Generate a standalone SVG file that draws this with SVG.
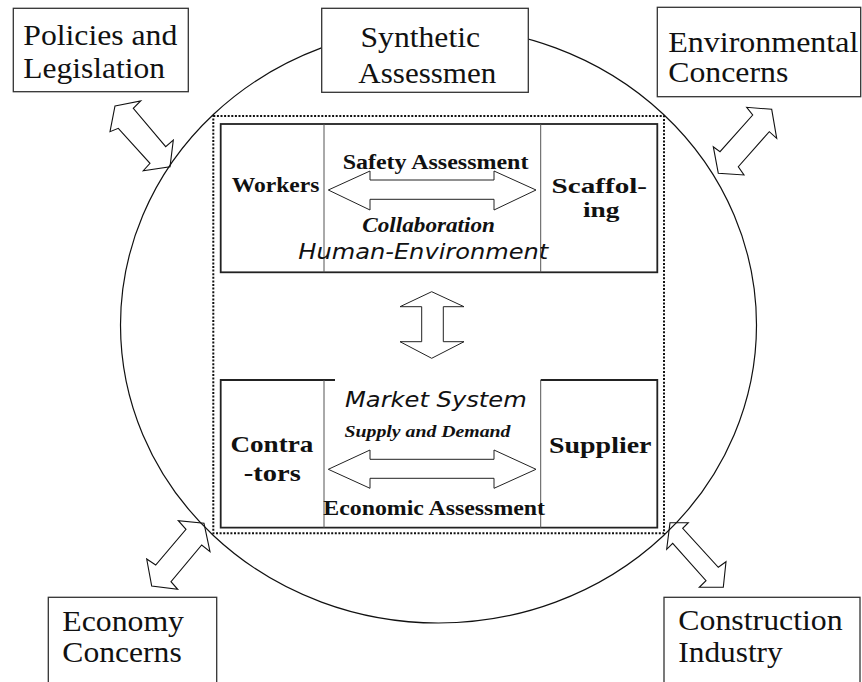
<svg xmlns="http://www.w3.org/2000/svg" width="862" height="682" viewBox="0 0 862 682">
<style>
.bg{fill:#fff}
.box{fill:#fff;stroke:#333;stroke-width:1.3}
.ring{fill:none;stroke:#111;stroke-width:1.2}
.dots{fill:none;stroke:#111;stroke-width:2;stroke-dasharray:2 1.6}
.frame{fill:none;stroke:#222;stroke-width:1.8}
.div{fill:none;stroke:#555;stroke-width:1}
.arr{fill:#fff;stroke:#222;stroke-width:1}
.darr{fill:none;stroke:#111;stroke-width:1.1;stroke-linejoin:miter}
.lab{font-family:"Liberation Serif","Times New Roman",Times,serif;font-size:29px;fill:#111}
.b{font-family:"Liberation Serif","Times New Roman",Times,serif;font-weight:bold;fill:#111}
.bi{font-family:"Liberation Serif","Times New Roman",Times,serif;font-weight:bold;font-style:italic;fill:#111}
.sys{font-family:"DejaVu Sans",Verdana,sans-serif;font-style:italic;font-size:22px;fill:#111}
</style>
<rect class="bg" x="0" y="0" width="862" height="682"/>
<ellipse class="ring" cx="438.5" cy="325" rx="318" ry="298"/>
<rect id="system" class="dots" x="213.3" y="116" width="450.7" height="417.3"/>

<g id="human-environment">
  <rect class="frame" x="220.7" y="124" width="436.6" height="148.3"/>
  <line class="div" x1="324" y1="124" x2="324" y2="272.3"/>
  <line class="div" x1="540.7" y1="124" x2="540.7" y2="272.3"/>
  <text class="sys" x="298.3" y="259.3" textLength="250" lengthAdjust="spacingAndGlyphs">Human-Environment</text>
</g>
<g id="workers">
  <text class="b" font-size="21" x="231.7" y="191.7" textLength="87.6" lengthAdjust="spacingAndGlyphs">Workers</text>
</g>
<g id="scaffolding">
  <text class="b" font-size="21.5" x="551.5" y="193" textLength="95.5" lengthAdjust="spacingAndGlyphs">Scaffol-</text>
  <text class="b" font-size="21.5" x="583" y="217" textLength="36.5" lengthAdjust="spacingAndGlyphs">ing</text>
</g>

<g id="market-system">
  <path class="frame" d="M335,380 H220.7 V527.7 H657.3 V380 H540.7"/>
  <line class="div" x1="324" y1="380" x2="324" y2="527.7"/>
  <line class="div" x1="540.7" y1="380" x2="540.7" y2="527.7"/>
  <text class="sys" x="345" y="407.3" textLength="181.7" lengthAdjust="spacingAndGlyphs">Market System</text>
</g>
<g id="contractors">
  <text class="b" font-size="23" x="230.4" y="451.7" textLength="83" lengthAdjust="spacingAndGlyphs">Contra</text>
  <text class="b" font-size="23" x="243.8" y="480.7" textLength="57" lengthAdjust="spacingAndGlyphs">-tors</text>
</g>
<g id="supplier">
  <text class="b" font-size="23" x="549" y="453.3" textLength="102.5" lengthAdjust="spacingAndGlyphs">Supplier</text>
</g>

<g id="policies">
  <rect class="box" x="13.3" y="8.3" width="175" height="83.4"/>
  <text class="lab" x="23.3" y="45" textLength="154" lengthAdjust="spacingAndGlyphs">Policies and</text>
  <text class="lab" x="23.3" y="78" textLength="141.7" lengthAdjust="spacingAndGlyphs">Legislation</text>
</g>
<g id="synthetic">
  <rect class="box" x="321.7" y="8.3" width="206.6" height="84"/>
  <text class="lab" x="360.5" y="46.7" textLength="119.5" lengthAdjust="spacingAndGlyphs">Synthetic</text>
  <text class="lab" x="358.3" y="83" textLength="138" lengthAdjust="spacingAndGlyphs">Assessmen</text>
</g>
<g id="environmental">
  <rect class="box" x="657.3" y="7.3" width="203.4" height="89.4"/>
  <text class="lab" x="668.3" y="51.7" textLength="190" lengthAdjust="spacingAndGlyphs">Environmental</text>
  <text class="lab" x="668.3" y="81.7" textLength="120" lengthAdjust="spacingAndGlyphs">Concerns</text>
</g>
<g id="economy">
  <rect class="box" x="48.3" y="597.3" width="168.4" height="100"/>
  <text class="lab" x="62.3" y="630.7" textLength="121.7" lengthAdjust="spacingAndGlyphs">Economy</text>
  <text class="lab" x="62.3" y="661.7" textLength="119.4" lengthAdjust="spacingAndGlyphs">Concerns</text>
</g>
<g id="construction">
  <rect class="box" x="664" y="597.3" width="196" height="100"/>
  <text class="lab" x="678.3" y="630" textLength="164.4" lengthAdjust="spacingAndGlyphs">Construction</text>
  <text class="lab" x="678.3" y="661.7" textLength="104.4" lengthAdjust="spacingAndGlyphs">Industry</text>
</g>

<g id="connectors">
  <polygon class="arr" points="328.3,190 370,171 370,180 494,180 494,171 536,190 494,210 494,199.3 370,199.3 370,210"/>
  <polygon class="arr" points="328.3,469.3 370,450 370,459.3 494,459.3 494,450 536,469.3 494,488.3 494,478.3 370,478.3 370,488.3"/>
  <polygon class="arr" points="431.7,291.7 464,306.7 443.3,306.7 443.3,341.7 464,341.7 431.7,358.3 400,341.7 421.7,341.7 421.7,306.7 400,306.7"/>
  <polygon class="darr" points="115,106 140.7,101 133.3,108.3 165.7,146.7 173.3,140 170,166.7 143.3,170.7 150,163.3 118.3,128.3 110,131.7"/>
  <polygon class="darr" points="771.7,109.3 776.7,138.3 769.3,131.7 738.3,166.7 744,175 718.3,173.3 713.3,146.7 720,151.7 752.7,115 746.7,107.3"/>
  <polygon class="darr" points="204,523.3 210,551.7 201.7,545 171,581.7 177.7,589.3 151.7,586 146.7,559 155.7,565 186,529.3 178.3,520.7"/>
  <polygon class="darr" points="670,522.7 688.3,522.7 682.7,528.3 718.3,567.3 726,561.7 723.3,587.3 699.3,587.3 706,580.7 672.7,543.3 666.7,549.3"/>
</g>

<g id="labels">
  <text class="b" font-size="20.5" x="342.7" y="169.3" textLength="185.7" lengthAdjust="spacingAndGlyphs">Safety Assessment</text>
  <text class="bi" font-size="20" x="362.3" y="231.7" textLength="132.7" lengthAdjust="spacingAndGlyphs">Collaboration</text>
  <text class="bi" font-size="17" x="344.5" y="436.7" textLength="166" lengthAdjust="spacingAndGlyphs">Supply and Demand</text>
  <text class="b" font-size="21" x="323.3" y="515" textLength="221.7" lengthAdjust="spacingAndGlyphs">Economic Assessment</text>
</g>
</svg>
